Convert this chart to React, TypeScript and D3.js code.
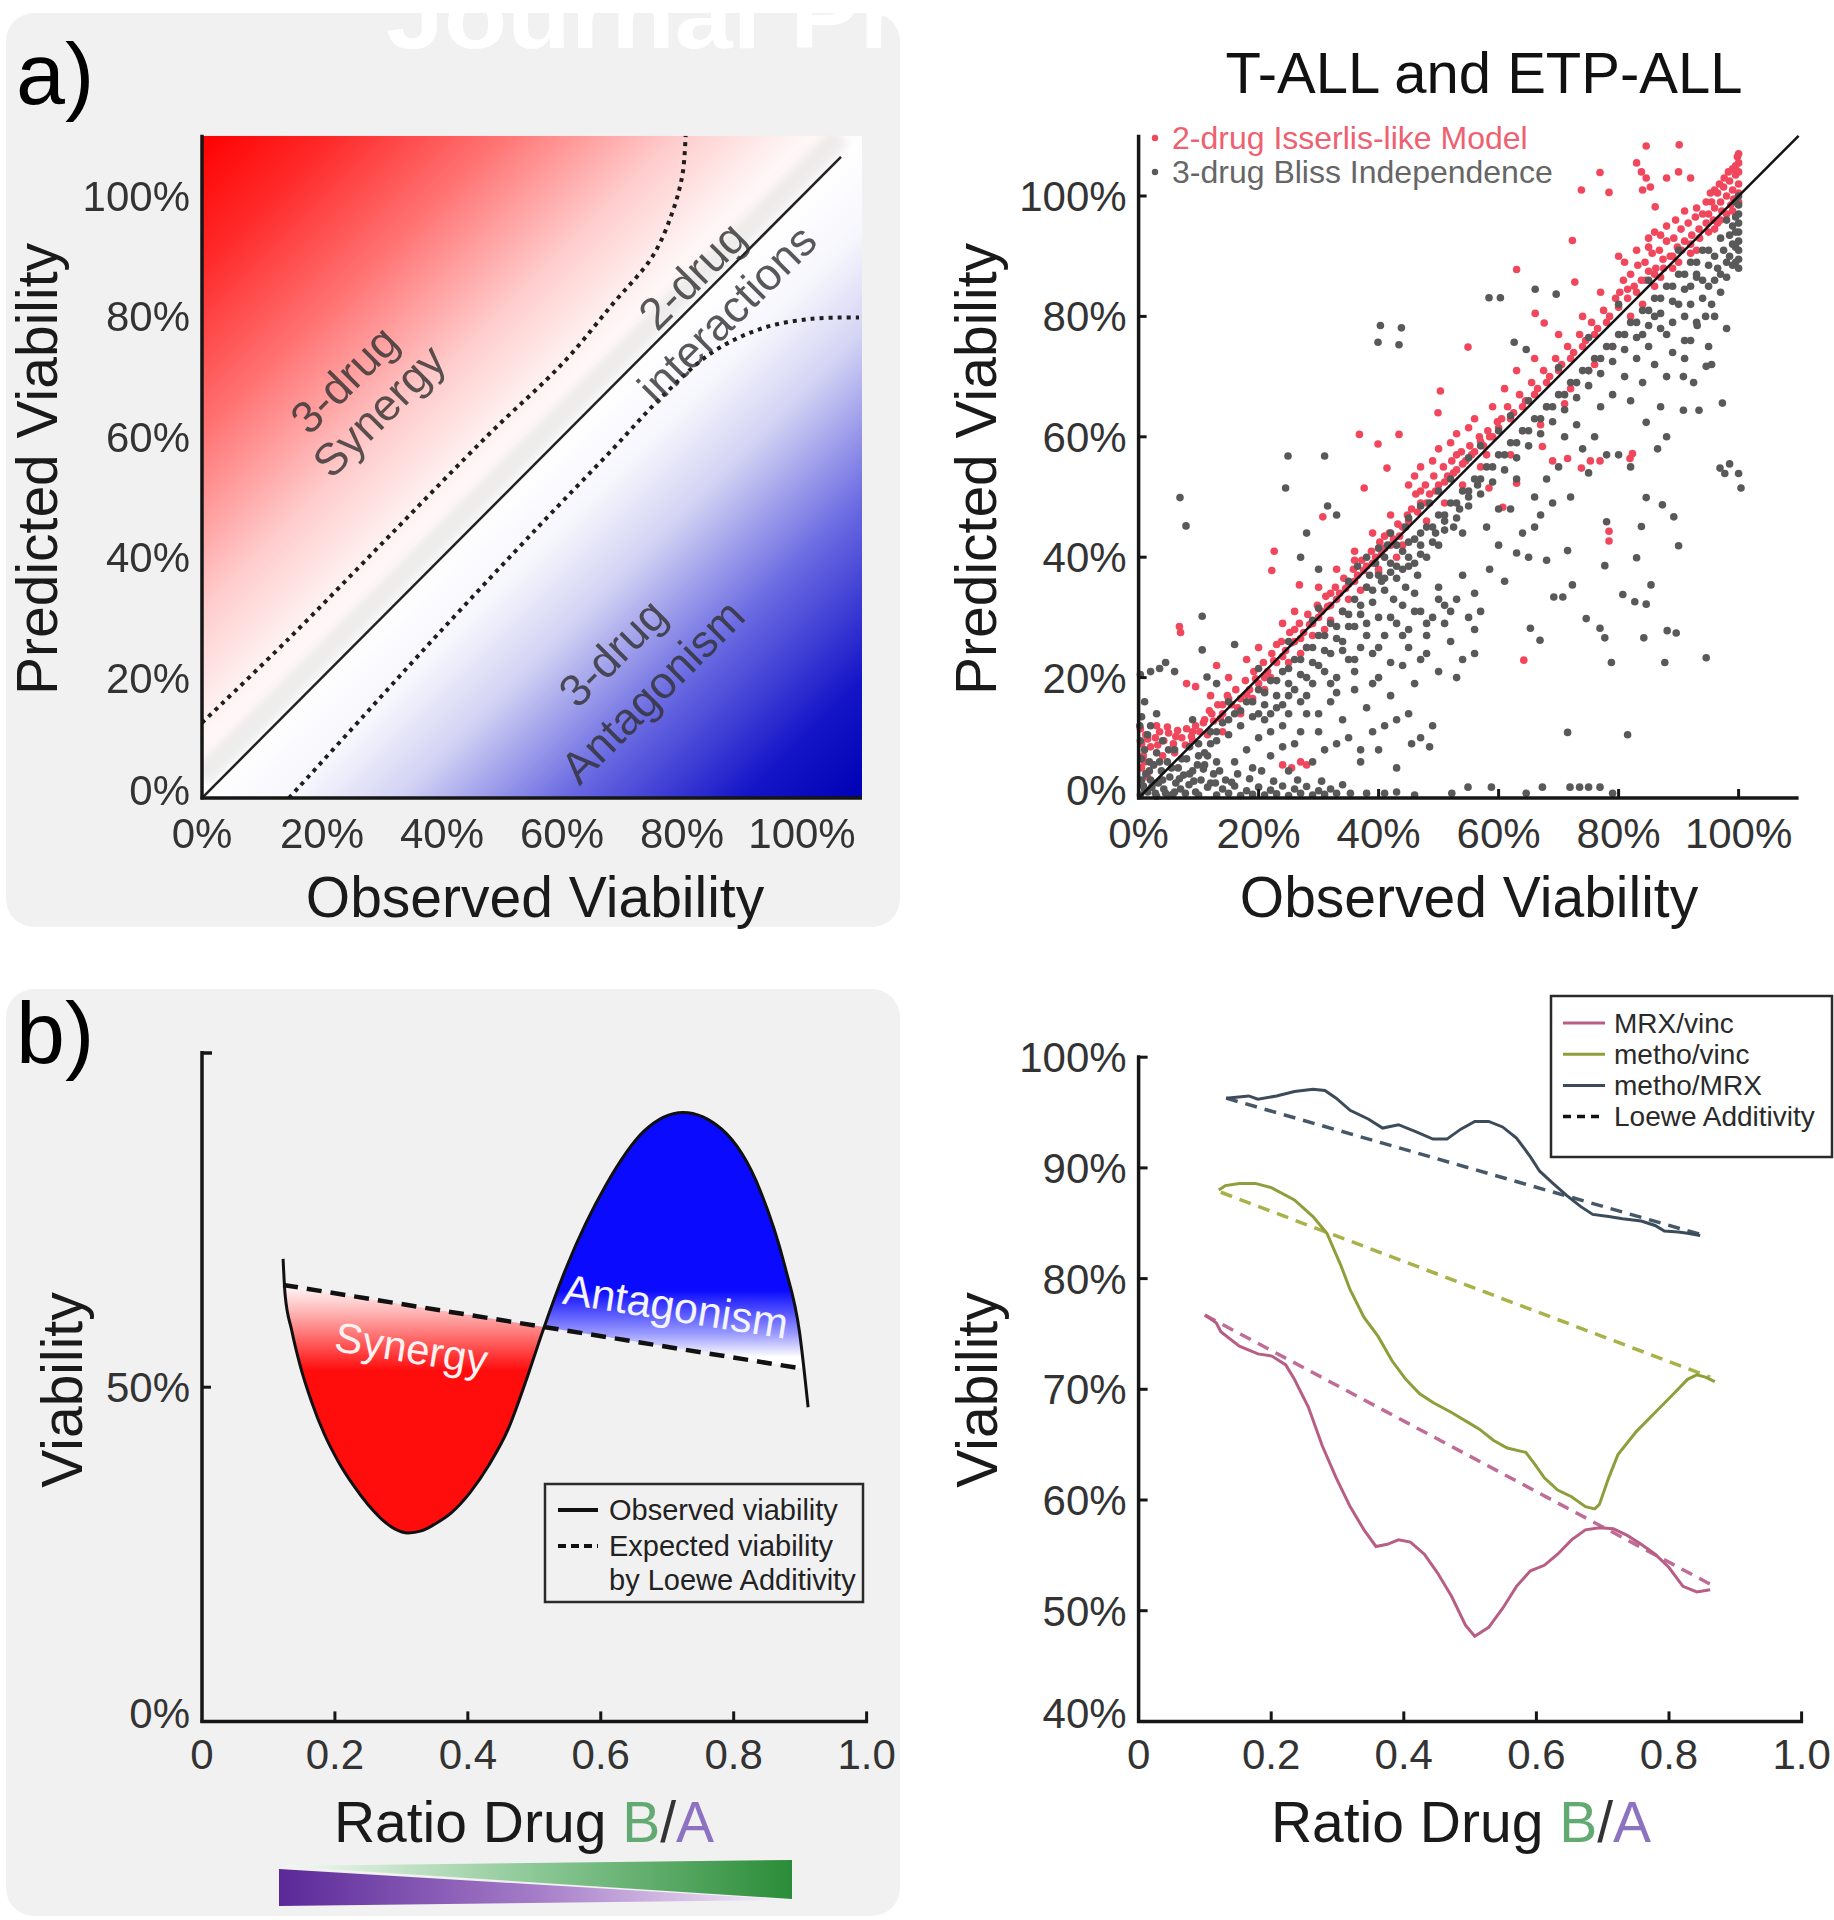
import React from 'react';
import * as d3 from 'd3';

// ---------- tick data ----------
const pctTicks = [0, 20, 40, 60, 80, 100];
const pctLabels = ['0%', '20%', '40%', '60%', '80%', '100%'];
const ratioTicks = [0, 0.2, 0.4, 0.6, 0.8, 1.0];
const ratioLabels = ['0', '0.2', '0.4', '0.6', '0.8', '1.0'];
const viabTicksL = [0, 50];
const viabLabelsL = ['0%', '50%'];
const viabTicksR = [40, 50, 60, 70, 80, 90, 100];
const viabLabelsR = ['40%', '50%', '60%', '70%', '80%', '90%', '100%'];

// ---------- panel a (schematic) ----------
const synergyBoundary = [[0, 12.5], [14.5, 26.5], [31.1, 43.4], [47.7, 60.3], [60.2, 72.3], [68.4, 82], [75.1, 90], [78.4, 97.3], [80.1, 103.7], [80.6, 110]];
const antagonismBoundary = [[14.5, 0], [27, 13.7], [39.4, 27.3], [56, 45], [68.4, 57.9], [76.7, 66.7], [85, 74], [93.3, 78], [101.6, 79.6], [109.5, 79.8]];

// ---------- panel a (scatter) ----------
const isserlisPts = [
  [0.5,9],[1.2,10.5],[2,8.5],[2.8,10],[3.5,11],[4.2,9.5],[5,10.8],[5.8,9],[6.5,11.2],[7.2,10],[8,11.5],[8.8,10.2],[9.5,12],[10.2,11],[1,6],[2.5,5.5],[4,7],[6,7.5],[0.3,11.5],[3,12],[0.5,5],[0.8,7],[1.5,3.5],
  [11,13],[11.8,14.5],[12.5,12.8],[13.2,15.5],[14,14],[14.8,17],[15.5,15.5],[16.2,18],[17,16.5],[17.8,19.5],[18.5,18],[19.2,21],[20,19],[20.8,22.5],[21.5,21],[22.2,24],[23,22.5],[23.8,26],[24.5,24.5],[25.2,27.5],[26,26],[26.8,29],[27.5,27.5],[28.2,30.5],[29,29],[29.8,32],[30.5,31],[31.2,33.5],[32,32],[32.8,35],[33.5,34],[34.2,36.5],[35,35.5],[35.8,38],[36.5,37],[37.2,39.5],[38,38.5],[38.8,41],[39.5,40],[40.2,42.5],[41,41.5],[41.8,44],[42.5,43],[43.2,45.5],[44,45],[44.8,47],
  [12,17],[15,20],[18,23],[20,25],[22,20],[24,29],[26,31],[28,25],[30,35],[31,28],[33,38],[34,31],[36,41],[38,35],[39,44],[40,38],[42,47],[43,40],[17,14],[14,11],[19,16.5],[21,18],[25,22.5],[27,24],[29,27],[32,29.5],[35,33],[37,34.5],[40,37.5],[44,42],
  [24,5.5],[25.5,5],[27,6],[28,5.5],[6.8,28.5],[7,27.5],[22.6,41],[22.2,37.8],[26.8,35.4],[30.7,46.7],[9.5,18.5],[8,19],[13,22],
  [45.5,48],[46.2,50.5],[47,49],[47.8,52],[48.5,50.5],[49.2,53.5],[50,52],[50.8,55],[51.5,53.5],[52.2,56],[53,54.5],[53.8,57.5],[54.5,56],[55.2,58.5],[56,57.5],[56.8,60],[57.5,58.5],[58.2,61],[59,60],[59.8,62.5],
  [45,52],[47,55],[48,46],[50,58],[51,49],[53,60.5],[54,52],[56,63],[57,55],[59,65],[46,53.5],[49,56],[52,59],[55,61.5],[58,57],
  [37.6,51.5],[41.4,54.8],[39.9,58.8],[36.8,60.4],[43.4,60.4],[49.9,64],[50.3,67.6],[54.9,74.9],[60.7,48.3],[58.4,51.5],[63,52.3],[64.2,22.9],
  [60.5,63],[61.5,65],[62.5,64],[63.5,67],[64.5,66],[65.5,69],[66.5,68],[67.5,71],[68.5,70],[69.5,73],[70.5,72],[71.5,75],[72.5,74],[73.5,77],[74.5,76],[75.5,79],[76.5,78],[77.5,81],[78.5,80],[79.5,83],
  [61,68],[63,71],[64,61],[66,73],[68,65],[70,77],[72,68],[74,80],[75,71],[77,84],[79,75],[62,57],[67,62],[71,65.5],[76,72],
  [63,87.8],[66.1,80.5],[67.6,78.9],[72.7,85.7],[72.3,92.6],[73.8,101],[76.9,103.9],[78.4,100.6],[67.3,58.4],[71.5,56.4],[75.3,56],[76.9,56],[73.8,54.8],[82.3,57.2],[81.9,56.4],[78.4,44.3],[78.4,42.7],[69,56],
  [80.2,84],[80.8,86],[81.5,83],[82,87],[82.6,85],[83.2,88.5],[83.8,86],[84.4,89],[85,87.5],[85.6,90.5],[86.2,88],[86.8,91],[87.4,89.5],[88,92.5],[88.6,90],[89.2,93],[89.8,91.5],[90.4,94.5],[91,92.5],[91.6,95.5],[92.2,93.5],[92.8,96.5],[93.4,94.5],[94,97],[94.6,95.5],
  [81,89],[83,91],[85,93],[86,85],[88,95],[90,89],[91,97.5],[93,91],[84,82],[87,86.5],[89,88],[92,90.5],[82,80],[80,90],[86,94],
  [83,105.5],[83.8,104],[84.6,103],[85.3,101.5],[86.1,98.2],[84.6,108.3],[90.1,108.5],[84,101],[90,104],[88,103],[92,103],
  [95,97],[95.5,99],[96,98],[96.5,100.5],[97,99],[97.5,101.5],[98,100],[98.5,102.5],[99,101],[99.5,103.5],[100,102],[100,104],[100,105.5],[99.8,106.5],[99,104.5],[98.3,104],[97.6,103],[96.8,102],[96,101],[95.3,100.5],[100,100.5],[99.2,99.5],[98.7,98.5],[97.2,97.5],[95.8,96],[94.6,99],[100,107],[99.5,105],
  [1.5,9.8],[3.2,8.8],[4.8,11.8],[6.2,10.2],[7.8,8.8],[9,9.5],[10.8,12.5],[12.2,14],[13.6,13.2],[15,16.5],[16.5,15],[18,17.2],[19.5,19.8],[21,20],[22.5,22.8],[24,23.5],[25.5,25.8],[27,26.5],[28.5,28.8],[30,30],[31.5,31.8],[33,33],[34.5,34.8],[36,36],[37.5,37.8],[39,39],[40.5,40.5],[42,42],[43.5,43.5],[45,46],[46.5,47.5],[48,49],[49.5,51],[51,52.5],[52.5,54],[54,55.5],[55.5,57],[57,59.2],[58.5,60],[60,61.5],[62,63],[64,65],[66,67],[68,69],[70,71],[72,73],[74,75],[76,77],[78,79],[80,81.5],[81.5,84.5],[83,84],[84.5,86],[86,87],[87.5,88],[89,90],[90.5,91],[92,92],[93.5,93],[95,94],[96.5,95.5],[98,97],[99,97.5],[100,99],[97,96],[96,94.5],[93,98],[89.5,96],[87,93.5],[85,91.5],[11.5,10.5],[9,11],[14,15.5],[23,25.5],[26,28],[32,34],[36,39.5],[41,43.5],[47,51],[53,57]
];

const blissPts = [
  [0.3,0.5],[0.8,2],[1.2,4],[1.5,1],[2,3],[2.5,5.5],[2.8,0.8],[3.3,2.5],[3.8,4.5],[4.2,1.5],[4.8,6],[5.2,3.5],[5.7,0.6],[6.2,2.5],[6.6,5],[7,1.5],[7.5,3.8],[8,6.5],[8.4,2.2],[9,4.5],[9.5,1],[10,7],[10.4,3],[11,5.5],[11.5,1.8],[0.5,6.5],[1,8],[1.8,6],[0.2,12],[0.5,13.5],[3,7.5],[4,9.5],[6,8],[8.5,8.5],[12,9],[12.5,4],[2.2,1.8],[5,0.4],[9.8,5.5],
  [0.5,3],[1,1.5],[1.8,4.5],[2.5,2.5],[3,0.3],[3.5,6],[4,3],[4.5,0.8],[5.5,5],[6,1],[6.8,3.2],[7.2,6.5],[7.8,0.8],[8.5,4],[9.2,2.8],[10,0.5],[10.8,4.8],[11.5,7],[12,2.5],[13,6],[0.3,9.5],[1.5,10.5],[2,12],[5,8],
  [13,0.5],[14,1.5],[15,0.8],[16,2],[17,0.4],[18,1.2],[19,0.6],[20,1.8],[21,0.5],[22,1.3],[23,0.7],[24,2],[25,0.4],[26,1.5],[27,0.8],[28,1.9],[29,0.5],[30,1.2],[31,0.6],[32,1.5],[14.5,3],[18.5,3.2],[22.5,2.8],[26.5,3],[30.5,2.8],[13.5,4.5],[16.5,4],[20.5,4.5],[12.8,2.5],[15.5,2.6],[33,0.8],[34,2.2],
  [35.3,0.8],[38,0.8],[41,0.8],[43,1],[52.2,0.8],[54.9,1.8],[58.8,1.8],[64.6,0.8],[67.3,1.8],[71.9,1.8],[73.5,1.8],[75,1.8],[76.9,1.8],[79,0.8],[46,0.5],
  [10,9],[11,7.5],[12,11],[13,9.5],[14,12.5],[15,10.5],[16,14],[17,12],[18,16],[19,13.5],[20,18],[21,15.5],[22,19.5],[23,17],[24,21],[25,19],[26,23],[27,20.5],[28,25],[29,22.5],[30,27],[31,24.5],[32,29],[33,26.5],[34,31],[35,28.5],[36,33],[37,30.5],[38,35],[39,32.5],[40,37],[41,34.5],[42,39],[43,36.5],[44,41],[45,38.5],[46,43],[47,40.5],[48,45],[49,42.5],[50,47],[51,44.5],[52,49],[53,46.5],[54,51],[55,48.5],[56,53],[57,50.5],[58,55],[59,52.5],[60,57],[61,54.5],[62,59],[63,56.5],[64,61],[65,58.5],[66,63],[67,60.5],[68,65],[69,62.5],[70,67],[71,64.5],[72,69],[73,66.5],[74,71],[75,68.5],[76,73],[77,70.5],[78,75],[79,72.5],[80,77],[81,74.5],[82,79],[83,76.5],[84,81],[85,78.5],[86,83],[87,80.5],[88,85],[89,82.5],[90,87],[91,84.5],[92,89],[93,86.5],[94,91],[95,88.5],[96,90],[97,87],
  [13,11],[15,13],[17,14.5],[19,16],[21,17.5],[23,19.5],[25,21.5],[27,23],[29,25],[31,27],[33,28.5],[35,30.5],[37,32],[39,34.5],[41,36.5],[43,38.5],[45,40],[47,42],[49,45],[51,47],[53,49],[55,51],[57,53],[59,55],[61,57],[63,59],[65,61],[67,63],[69,65],[71,67],[73,69],[75,71],[77,73],[79,75],[81,77],[83,79],[85,81],[87,83],[89,85],[91,87],[93,89],[95,91],
  [15,16],[20,21.5],[25,26],[30,31.5],[35,36],[40,41.5],[45,46.5],[50,51],[55,56.5],[60,61],[65,66],[70,71.5],[75,76.5],[80,82],[85,86],[90,91],[38,40],[42,44],[47,48.5],[52,53],[36.5,38.5],[41.5,42],[44.5,45],[48.5,49],[57,58.5],[62,63.5],
  [38.5,37],[39.5,39],[40.5,36],[41,40],[42,37.5],[43,42],[44,38],[45,42.5],[46,39],[47,44],[42.5,33],[44.5,35],[46.5,37],[48,40],[49.5,44],[51,46],[52.5,45],[53.5,48],[55,50],[56.5,52],[54,44],[50,42],
  [16,6],[18,8],[20,10],[22,7],[24,12],[26,9],[28,14],[30,11],[32,16],[34,13],[36,18],[38,15],[40,20],[42,17],[44,22],[46,19],[48,24],[50,21],[52,26],[54,23],[56,28],[21,13],[23,15],[25,17],[27,16],[29,19],[31,21],[33,20],[35,23],[37,25],[39,24],[41,27],[43,29],[45,28],[47,31],[49,30],[51,32],[53,33],[19,5],[25,4.5],[29,6],[31,8],[33,9],[35,10],[37,8],[39,11],[41,12],[43,13],[45,14],[47,10],[49,12],[24,8.5],[27,11],[30,14],[33,17.5],[36,21],[39,19],[42,22.5],[45,25],[48,27],[51,29],[55,30],[57,31],[28,20],[32,24],[34,26],[38,29],[40,30],[44,32],[46,34],[50,35],[37,6],[40,8],[43,5],[45.5,9],[48.5,8.5],[47,23],[56,24],[53,20],[36,28.5],[25,14],[22,11],[20,14],
  [22,14],[26,18],[30,22],[34,24.5],[38,27],[42,30],[46,31],[50,33],[54,37],[24,15.5],[28,17],[32,19],[36,23],[40,25],[44,27],[48,29],[52,31],[56,34],
  [58,45],[60,42],[62,48],[64,44],[66,50],[68,53],[70,55],[72,50],[74,58],[76,60],[78,57],[60,48],[63,53],[65,40],[67,47],[69,49],[71,60],[73,62],[75,54],[77,65],[79,67],[61,36],[63,40.7],[58.5,38],[66,45],
  [40.3,78.5],[43.8,78.1],[39.9,75.7],[43.4,75.3],[58.4,83.1],[60.3,83.1],[66.1,84.5],[69.6,83.7],[62.6,75.7],[64.6,74.5],[96.9,54.8],[97.7,53.9],[100,53.9],[100.4,51.5],[98.5,55.5],[24.9,56.8],[31,56.8],[24.5,51.5],[6.9,49.9],[7.9,45.2],[10.6,30.2],[10.6,24.6],[11.4,20.1],[0.3,20.5],[2,21],[3.5,21.5],[4.5,22.5],[6,21],
  [84.6,49.9],[87.3,48.7],[89.2,46.7],[90,41.9],[78,45.9],[77.7,38.6],[83.8,45.1],[83,39.9],[80.7,33.8],[82.7,32.6],[84.6,32.2],[85.4,35.4],[74.6,29.8],[76.9,28.2],[77.7,26.6],[78.8,22.5],[72.3,35.4],[71.5,41.1],[68,39.5],[69.2,33.4],[70.7,33.4],[65.3,28.2],[66.9,26.2],[84.2,26.6],[88.1,27.8],[89.6,27.4],[87.7,22.5],[94.6,23.3],[71.5,10.9],[81.5,10.5],
  [90.8,64.4],[93.4,64.4],[90.8,70],[92.5,69],[94.6,71.7],[95.5,72],[97.3,65.6],[93.1,78.5],[84.6,62.4],[87,65],[88,60],[86,72],[89,74],[91,76],[84,69],[82,66],[86.5,58],[80,57],[82,55],[33,47],[28,44],[30,38],[31.5,48.5],[27,40],[29,29.5],[3,14],[1,16],[9,13],[16,25.5],[13,19],
  [100,88],[100,89.5],[100,91],[100,92.5],[100,94],[100,95.5],[100,97],[100,98.5],[100,100],[99.5,89],[99.5,91.5],[99.5,94],[99.5,96.5],[99.5,99],[99,88.5],[99,92],[99,95],[98.5,90],[98.5,93.5],[98,89],[98,96],[97.5,91],[97,93],[96.5,88],[96,86],[95,85],[94,83],[93,87],[92,82],[91,80],[98,86.5],[97,84],[95.5,82],[94.5,80],[93,79],[92,85],[89,79],[88,77],
  [85,75],[87,78],[90,82],[92,76],[94,86],[96,80],[83,73],[81,70],[88,70],[91,73],[95,75],[98,78],[86,80],[84,77]
];

// ---------- panel b (schematic) ----------
const observedX = [0.122, 0.125, 0.135, 0.147, 0.165, 0.184, 0.205, 0.228, 0.25, 0.271, 0.29, 0.31, 0.33, 0.35, 0.375, 0.403, 0.432, 0.461, 0.487, 0.512, 0.549, 0.607, 0.665, 0.724, 0.782, 0.84, 0.877, 0.899, 0.912];
const observedY = [69.2, 63.9, 58.5, 53.5, 47.8, 43.0, 38.9, 35.3, 32.4, 30.2, 28.8, 28.2, 28.5, 29.5, 31.2, 34.2, 38.4, 43.8, 50.8, 58.2, 68.1, 80.1, 88.3, 91.1, 88.6, 79.4, 68.1, 58.3, 47];
const loeweX = [0.122, 0.902];
const loeweY = [65.3, 52.8];

// ---------- panel b (measured) ----------
const mrxVincX = [0.1,0.117,0.124,0.152,0.18,0.201,0.222,0.235,0.256,0.277,0.298,0.319,0.34,0.358,0.375,0.392,0.41,0.431,0.451,0.472,0.493,0.507,0.528,0.549,0.57,0.591,0.612,0.632,0.653,0.674,0.695,0.716,0.737,0.758,0.779,0.8,0.821,0.842,0.862];
const mrxVincY = [76.7,76.0,75.2,73.9,73.2,73.0,72.2,70.9,68.4,64.9,62.0,59.4,57.3,55.8,56.0,56.4,56.2,55.1,53.4,51.3,48.7,47.7,48.5,50.2,52.2,53.6,54.1,55.1,56.4,57.3,57.5,57.4,56.8,56.0,55.1,53.9,52.2,51.7,51.9];
const methoVincX = [0.121,0.131,0.152,0.176,0.201,0.235,0.263,0.284,0.305,0.319,0.34,0.361,0.382,0.403,0.424,0.444,0.472,0.5,0.514,0.535,0.556,0.584,0.598,0.612,0.632,0.653,0.674,0.688,0.695,0.709,0.723,0.751,0.779,0.807,0.828,0.842,0.855,0.869];
const methoVincY = [88.0,88.4,88.6,88.6,88.2,87.1,85.6,84.1,81.2,79.0,76.5,74.8,72.6,70.9,69.6,68.8,67.9,66.9,66.4,65.4,64.7,64.3,63.2,62.0,60.9,60.3,59.4,59.2,59.6,62.0,64.1,66.2,67.9,69.6,70.9,71.3,71.1,70.7];
const methoMrxX = [0.132,0.166,0.18,0.208,0.235,0.263,0.281,0.298,0.319,0.347,0.368,0.392,0.417,0.444,0.465,0.486,0.507,0.528,0.549,0.57,0.591,0.605,0.625,0.646,0.667,0.685,0.709,0.73,0.758,0.779,0.793,0.814,0.828,0.847];
const methoMrxY = [96.3,96.5,96.2,96.5,96.9,97.1,97.0,96.3,95.2,94.4,93.6,93.9,93.3,92.6,92.6,93.5,94.2,94.2,93.7,92.7,91.0,89.7,88.6,87.5,86.5,85.8,85.6,85.4,85.2,84.8,84.3,84.2,84.1,83.9];
const loeweMrxVincX = [0.1, 0.862];
const loeweMrxVincY = [76.7, 52.4];
const loeweMethoVincX = [0.124, 0.862];
const loeweMethoVincY = [87.8, 71.1];
const loeweMethoMrxX = [0.132, 0.847];
const loeweMethoMrxY = [96.3, 84.0];

const seriesNames = ['MRX/vinc', 'metho/vinc', 'metho/MRX', 'Loewe Additivity'];

const FONT = "'Liberation Sans', Arial, Helvetica, sans-serif";

export default function App() {
  const W = 1834, H = 1920;

  const xA = d3.scaleLinear().domain([0, 100]).range([202, 802]);
  const yA = d3.scaleLinear().domain([0, 100]).range([798, 196]);
  const xS = d3.scaleLinear().domain([0, 100]).range([1138.6, 1738.6]);
  const yS = yA;
  const xB = d3.scaleLinear().domain([0, 1]).range([202, 866.6]);
  const yB = d3.scaleLinear().domain([0, 100]).range([1721.4, 1053]);
  const xR = d3.scaleLinear().domain([0, 1]).range([1138.6, 1801.6]);
  const yR = d3.scaleLinear().domain([40, 100]).range([1721.4, 1057.2]);

  const curveLine = d3.line<number[]>().x(d => xA(d[0])).y(d => yA(d[1])).curve(d3.curveCatmullRom.alpha(0.5));

  const loeweAt = d3.scaleLinear().domain(loeweX).range(loeweY);
  const idx = observedX.map((_, i) => i);
  const obsLine = d3.line<number>().x(i => xB(observedX[i])).y(i => yB(observedY[i])).curve(d3.curveMonotoneX);
  const fillArea = d3.area<number>().x(i => xB(observedX[i])).y0(i => yB(observedY[i])).y1(i => yB(loeweAt(observedX[i]))).curve(d3.curveMonotoneX);

  const seriesLine = (xs: number[], ys: number[]) =>
    d3.line<number>().x(i => xR(xs[i])).y(i => yR(ys[i]))(xs.map((_, i) => i)) || '';

  const axisStroke = '#161616';
  const tickColor = '#333';

  const yTickLabels = (scale: any, ticks: number[], labels: string[], axisX: number) =>
    ticks.map((t, i) => (
      <text key={'yl' + i} x={axisX - 12} y={scale(t) + 15 - (i === 0 ? 8 : 0)} textAnchor="end" fontSize={42} fill={tickColor}>{labels[i]}</text>
    ));
  const xTickLabels = (scale: any, ticks: number[], labels: string[], y: number) =>
    ticks.map((t, i) => (
      <text key={'xl' + i} x={scale(t)} y={y} textAnchor="middle" fontSize={42} fill={tickColor}>{labels[i]}</text>
    ));

  return (
    <svg width={W} height={H} style={{ position: 'absolute', left: 0, top: 0, background: '#fff' }} fontFamily={FONT}>
      <defs>
        <clipPath id="clipA"><rect x={xA(0)} y={yA(110)} width={xA(110) - xA(0)} height={yA(0) - yA(110)} /></clipPath>
        <clipPath id="clipTop"><rect x={0} y={13} width={W} height={200} /></clipPath>
        <linearGradient id="gradRed" gradientUnits="userSpaceOnUse" x1={xA(0)} y1={yA(110)} x2={xA(55)} y2={yA(55)}>
          <stop offset="0" stopColor="#ff0000" />
          <stop offset="0.2" stopColor="#ff2a2a" />
          <stop offset="0.45" stopColor="#ff7272" />
          <stop offset="0.72" stopColor="#ffcccc" />
          <stop offset="0.9" stopColor="#fff4f4" />
          <stop offset="1" stopColor="#ffffff" />
        </linearGradient>
        <linearGradient id="gradBlue" gradientUnits="userSpaceOnUse" x1={xA(110)} y1={yA(0)} x2={xA(55)} y2={yA(55)}>
          <stop offset="0" stopColor="#0000b4" />
          <stop offset="0.18" stopColor="#1515c8" />
          <stop offset="0.45" stopColor="#6a6ae2" />
          <stop offset="0.7" stopColor="#d2d2f4" />
          <stop offset="0.86" stopColor="#f6f6fd" />
          <stop offset="1" stopColor="#ffffff" />
        </linearGradient>
        <filter id="blur"><feGaussianBlur stdDeviation="4" /></filter>
        <linearGradient id="gradSyn" gradientUnits="userSpaceOnUse" x1="0" y1={yB(65.5)} x2="0" y2={yB(52.5)}>
          <stop offset="0" stopColor="#ffffff" />
          <stop offset="0.35" stopColor="#ffb0b0" />
          <stop offset="1" stopColor="#ff0c0c" />
        </linearGradient>
        <linearGradient id="gradAnt" gradientUnits="userSpaceOnUse" x1="0" y1={yB(54.5)} x2="0" y2={yB(64.5)}>
          <stop offset="0" stopColor="#ffffff" />
          <stop offset="0.35" stopColor="#9a9aff" />
          <stop offset="1" stopColor="#0a0aff" />
        </linearGradient>
        <clipPath id="clipBelow">
          <polygon points={`${xB(0.1)},${yB(loeweAt(0.1))} ${xB(0.6)},${yB(loeweAt(0.6))} ${xB(0.6)},${yB(0)} ${xB(0.1)},${yB(0)}`} />
        </clipPath>
        <clipPath id="clipAbove">
          <polygon points={`${xB(0.4)},${yB(loeweAt(0.4))} ${xB(0.95)},${yB(loeweAt(0.95))} ${xB(0.95)},${yB(100)} ${xB(0.4)},${yB(100)}`} />
        </clipPath>
        <linearGradient id="gradPurple" gradientUnits="userSpaceOnUse" x1="279" y1="0" x2="792" y2="0">
          <stop offset="0" stopColor="#5a2898" />
          <stop offset="0.5" stopColor="#a57cc8" />
          <stop offset="1" stopColor="#faf4fc" />
        </linearGradient>
        <linearGradient id="gradGreen" gradientUnits="userSpaceOnUse" x1="279" y1="0" x2="792" y2="0">
          <stop offset="0" stopColor="#f6fbf6" />
          <stop offset="0.5" stopColor="#8cc896" />
          <stop offset="1" stopColor="#2a8c38" />
        </linearGradient>
      </defs>

      {/* panel backgrounds */}
      <rect x={6} y={13} width={894} height={914} rx={28} fill="#f1f1f1" />
      <rect x={6} y={989} width={894} height={927} rx={28} fill="#f1f1f1" />

      {/* watermark (cut by the page top, as in the source) */}
      <g clipPath="url(#clipTop)">
        <text x={386} y={48} fontSize={92} fontWeight="bold" fill="#ffffff" textLength={872} lengthAdjust="spacingAndGlyphs" fontFamily="'Liberation Sans Narrow', 'Liberation Sans', Arial, sans-serif">Journal Pre-proof</text>
      </g>

      {/* panel labels */}
      <text x={16} y={104} fontSize={88} fill="#000">a)</text>
      <text x={16} y={1063} fontSize={88} fill="#000">b)</text>

      {/* ===== panel a schematic ===== */}
      <g clipPath="url(#clipA)">
        <rect x={xA(0)} y={yA(110)} width={xA(110) - xA(0)} height={yA(0) - yA(110)} fill="#ffffff" />
        <polygon points={`${xA(0)},${yA(0)} ${xA(0)},${yA(110)} ${xA(110)},${yA(110)}`} fill="url(#gradRed)" />
        <polygon points={`${xA(0)},${yA(0)} ${xA(110)},${yA(0)} ${xA(110)},${yA(110)}`} fill="url(#gradBlue)" />
        <line x1={xA(0)} y1={yA(3.5)} x2={xA(106.5)} y2={yA(110)} stroke="#cccccc" strokeWidth={22} opacity={0.33} filter="url(#blur)" />
        <path d={curveLine(synergyBoundary) || ''} fill="none" stroke="#1e1e1e" strokeWidth={4} strokeDasharray="4 5" />
        <path d={curveLine(antagonismBoundary) || ''} fill="none" stroke="#1e1e1e" strokeWidth={4} strokeDasharray="4 5" />
        <line x1={xA(0)} y1={yA(0)} x2={xA(106.5)} y2={yA(106.5)} stroke="#222" strokeWidth={2.5} />
      </g>
      <g fontSize={45} fill="#303030" opacity={0.8} textAnchor="middle" dominantBaseline="central">
        <text transform={`translate(${xA(23.7)},${yA(69.5)}) rotate(-45)`}>3-drug</text>
        <text transform={`translate(${xA(29.5)},${yA(64.3)}) rotate(-45)`}>Synergy</text>
        <text transform={`translate(${xA(81.7)},${yA(86.8)}) rotate(-45)`}>2-drug</text>
        <text transform={`translate(${xA(87.5)},${yA(80.4)}) rotate(-45)`}>interactions</text>
        <text transform={`translate(${xA(68.4)},${yA(24.1)}) rotate(-45)`}>3-drug</text>
        <text transform={`translate(${xA(75.1)},${yA(17.7)}) rotate(-45)`}>Antagonism</text>
      </g>
      <line x1={xA(0)} y1={yA(110) - 1} x2={xA(0)} y2={yA(0) + 1.5} stroke={axisStroke} strokeWidth={3.5} />
      <line x1={xA(0) - 1.5} y1={yA(0)} x2={xA(110)} y2={yA(0)} stroke={axisStroke} strokeWidth={3.5} />
      {yTickLabels(yA, pctTicks, pctLabels, xA(0))}
      {xTickLabels(xA, pctTicks, pctLabels, 848)}
      <text x={535} y={917} textAnchor="middle" fontSize={57} fill="#1a1a1a">Observed Viability</text>
      <text transform="translate(57,469) rotate(-90)" textAnchor="middle" fontSize={57} fill="#1a1a1a">Predicted Viability</text>

      {/* ===== panel a scatter ===== */}
      <text x={1484} y={93} textAnchor="middle" fontSize={58} fill="#111">T-ALL and ETP-ALL</text>
      <g>
        {isserlisPts.map((p, i) => <circle key={'r' + i} cx={xS(p[0])} cy={yS(p[1])} r={3.8} fill="#f0475c" />)}
        {blissPts.map((p, i) => <circle key={'g' + i} cx={xS(p[0])} cy={yS(p[1])} r={3.8} fill="#595959" />)}
      </g>
      <line x1={xS(0)} y1={yS(0)} x2={xS(110)} y2={yS(110)} stroke="#111" strokeWidth={2.5} />
      <line x1={xS(0)} y1={yS(110) - 1} x2={xS(0)} y2={yS(0) + 1.5} stroke={axisStroke} strokeWidth={3.5} />
      <line x1={xS(0) - 1.5} y1={yS(0)} x2={xS(110)} y2={yS(0)} stroke={axisStroke} strokeWidth={3.5} />
      {pctTicks.slice(1).map((t, i) => (
        <g key={'st' + i}>
          <line x1={xS(t)} y1={yS(0)} x2={xS(t)} y2={yS(0) - 9} stroke={axisStroke} strokeWidth={3} />
          <line x1={xS(0)} y1={yS(t)} x2={xS(0) + 8} y2={yS(t)} stroke={axisStroke} strokeWidth={3} />
        </g>
      ))}
      {yTickLabels(yS, pctTicks, pctLabels, xS(0))}
      {xTickLabels(xS, pctTicks, pctLabels, 848)}
      <text x={1469} y={917} textAnchor="middle" fontSize={57} fill="#1a1a1a">Observed Viability</text>
      <text transform="translate(996,469) rotate(-90)" textAnchor="middle" fontSize={57} fill="#1a1a1a">Predicted Viability</text>
      <circle cx={1155} cy={138} r={3.2} fill="#f0475c" />
      <text x={1172} y={138} fontSize={32} fill="#ef6070" dominantBaseline="central">2-drug Isserlis-like Model</text>
      <circle cx={1155} cy={172} r={3.2} fill="#5a5a5a" />
      <text x={1172} y={172} fontSize={32} fill="#666" dominantBaseline="central">3-drug Bliss Independence</text>

      {/* ===== panel b schematic ===== */}
      <path d={fillArea(idx) || ''} fill="url(#gradSyn)" clipPath="url(#clipBelow)" />
      <path d={fillArea(idx) || ''} fill="url(#gradAnt)" clipPath="url(#clipAbove)" />
      <line x1={xB(loeweX[0])} y1={yB(loeweY[0])} x2={xB(loeweX[1])} y2={yB(loeweY[1])} stroke="#111" strokeWidth={4.5} strokeDasharray="15 9" />
      <path d={obsLine(idx) || ''} fill="none" stroke="#111" strokeWidth={3} />
      <text transform={`translate(${xB(0.315)},${yB(55.8)}) rotate(9)`} textAnchor="middle" dominantBaseline="central" fontSize={42} fill="#fff2f2">Synergy</text>
      <text transform={`translate(${xB(0.713)},${yB(62.1)}) rotate(9)`} textAnchor="middle" dominantBaseline="central" fontSize={43} fill="#f4f4ff">Antagonism</text>
      <rect x={545} y={1484} width={318} height={118} fill="none" stroke="#2a2a2a" strokeWidth={2.5} />
      <line x1={558} y1={1510} x2={598} y2={1510} stroke="#111" strokeWidth={4} />
      <line x1={558} y1={1546} x2={598} y2={1546} stroke="#111" strokeWidth={4} strokeDasharray="8 5" />
      <g fontSize={29} fill="#222" dominantBaseline="central">
        <text x={609} y={1510}>Observed viability</text>
        <text x={609} y={1546}>Expected viability</text>
        <text x={609} y={1580}>by Loewe Additivity</text>
      </g>
      <line x1={xB(0)} y1={yB(100) - 2} x2={xB(0)} y2={yB(0) + 1.5} stroke={axisStroke} strokeWidth={3.5} />
      <line x1={xB(0)} y1={yB(100)} x2={xB(0) + 10} y2={yB(100)} stroke={axisStroke} strokeWidth={3.5} />
      <line x1={xB(0) - 1.5} y1={yB(0)} x2={xB(1) + 1.5} y2={yB(0)} stroke={axisStroke} strokeWidth={3.5} />
      {ratioTicks.slice(1).map((t, i) => (
        <line key={'bt' + i} x1={xB(t)} y1={yB(0)} x2={xB(t)} y2={yB(0) - 10} stroke={axisStroke} strokeWidth={3} />
      ))}
      <line x1={xB(0)} y1={yB(50)} x2={xB(0) + 9} y2={yB(50)} stroke={axisStroke} strokeWidth={3} />
      {yTickLabels(yB, viabTicksL, viabLabelsL, xB(0))}
      {xTickLabels(xB, ratioTicks, ratioLabels, 1769)}
      <text x={524} y={1842} textAnchor="middle" fontSize={57} fill="#1a1a1a">
        Ratio Drug <tspan fill="#62aa72">B</tspan><tspan fill="#333">/</tspan><tspan fill="#8e72c2">A</tspan>
      </text>
      <text transform="translate(82,1390) rotate(-90)" textAnchor="middle" fontSize={57} fill="#1a1a1a">Viability</text>
      <polygon points="279,1866 792,1860 792,1899" fill="url(#gradGreen)" />
      <polygon points="279,1869 792,1900 279,1906" fill="url(#gradPurple)" />

      {/* ===== panel b measured ===== */}
      <path d={seriesLine(loeweMrxVincX, loeweMrxVincY)} fill="none" stroke="#c06c98" strokeWidth={3.5} strokeDasharray="12 8" />
      <path d={seriesLine(loeweMethoVincX, loeweMethoVincY)} fill="none" stroke="#a8b248" strokeWidth={3.5} strokeDasharray="12 8" />
      <path d={seriesLine(loeweMethoMrxX, loeweMethoMrxY)} fill="none" stroke="#465868" strokeWidth={3.5} strokeDasharray="12 8" />
      <path d={seriesLine(mrxVincX, mrxVincY)} fill="none" stroke="#b85e84" strokeWidth={3} />
      <path d={seriesLine(methoVincX, methoVincY)} fill="none" stroke="#8e9e3a" strokeWidth={3} />
      <path d={seriesLine(methoMrxX, methoMrxY)} fill="none" stroke="#3c4b59" strokeWidth={3} />
      <line x1={xR(0)} y1={yR(100) - 2} x2={xR(0)} y2={yR(40) + 1.5} stroke={axisStroke} strokeWidth={3.5} />
      <line x1={xR(0) - 1.5} y1={yR(40)} x2={xR(1) + 1.5} y2={yR(40)} stroke={axisStroke} strokeWidth={3.5} />
      {ratioTicks.slice(1).map((t, i) => (
        <line key={'rt' + i} x1={xR(t)} y1={yR(40)} x2={xR(t)} y2={yR(40) - 10} stroke={axisStroke} strokeWidth={3} />
      ))}
      {viabTicksR.slice(1).map((t, i) => (
        <line key={'ry' + i} x1={xR(0)} y1={yR(t)} x2={xR(0) + 9} y2={yR(t)} stroke={axisStroke} strokeWidth={3} />
      ))}
      {yTickLabels(yR, viabTicksR, viabLabelsR, xR(0))}
      {xTickLabels(xR, ratioTicks, ratioLabels, 1769)}
      <text x={1461} y={1842} textAnchor="middle" fontSize={57} fill="#1a1a1a">
        Ratio Drug <tspan fill="#62aa72">B</tspan><tspan fill="#333">/</tspan><tspan fill="#8e72c2">A</tspan>
      </text>
      <text transform="translate(997,1390) rotate(-90)" textAnchor="middle" fontSize={57} fill="#1a1a1a">Viability</text>
      <rect x={1551} y={996} width={281} height={161} fill="#fff" stroke="#2a2a2a" strokeWidth={2.5} />
      {[
        { c: '#b85e84', d: '' },
        { c: '#8e9e3a', d: '' },
        { c: '#3c4b59', d: '' },
        { c: '#111', d: '8 6' },
      ].map((s, i) => (
        <g key={'lg' + i}>
          <line x1={1563} y1={1023 + i * 31.2} x2={1605} y2={1023 + i * 31.2} stroke={s.c} strokeWidth={i === 3 ? 3.5 : 3} strokeDasharray={s.d || undefined} />
          <text x={1614} y={1023 + i * 31.2} fontSize={28} fill="#2a2a2a" dominantBaseline="central">{seriesNames[i]}</text>
        </g>
      ))}
    </svg>
  );
}
